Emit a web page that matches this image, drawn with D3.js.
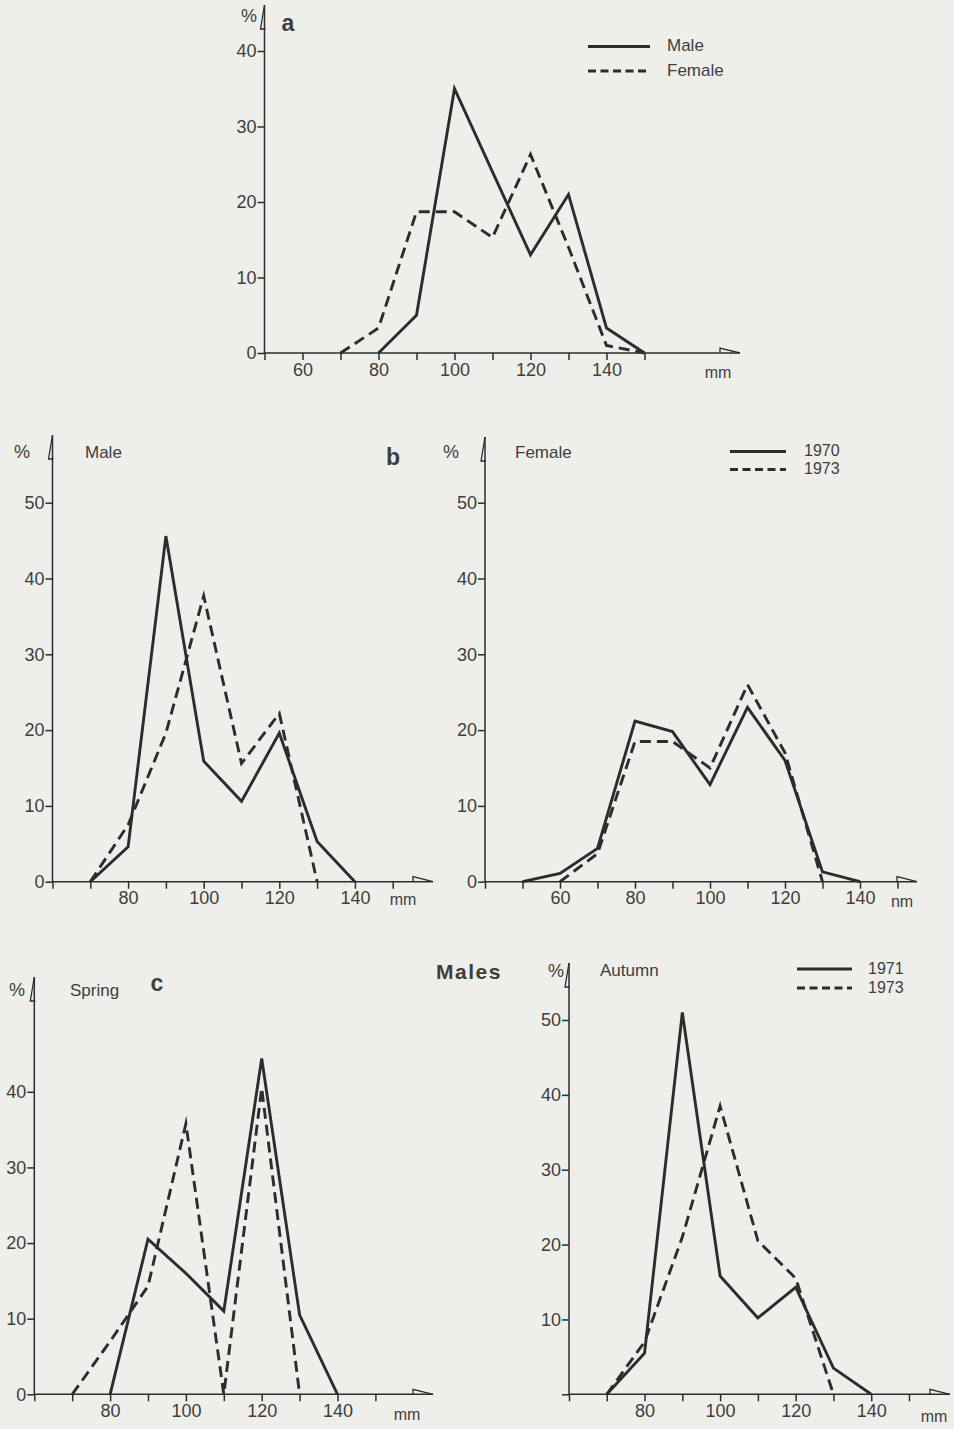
<!DOCTYPE html>
<html>
<head>
<meta charset="utf-8">
<script src="https://cdn.jsdelivr.net/npm/d3@7"></script>
<style>
  html, body { margin: 0; padding: 0; background: #eeeeea; }
  svg { display: block; }
  text { font-family: "Liberation Sans", Arial, sans-serif; fill: #3e3e3e; }
</style>
</head>
<body>
<svg id="fig" width="954" height="1429"></svg>
<script>
// ---- size classes (mm) and percentage frequencies ----
const classesA = [70, 80, 90, 100, 110, 120, 130, 140, 150];
const aMale    = [null, 0, 5, 35, 24, 13, 21, 3.3, 0];
const aFemale  = [0, 3.3, 18.7, 18.7, 15.3, 26.3, 14, 1, 0];

const classesB    = [50, 60, 70, 80, 90, 100, 110, 120, 130, 140];
const bMale1970   = [null, null, 0, 4.6, 45.6, 15.9, 10.6, 19.6, 5.3, 0];
const bMale1973   = [null, null, 0, 7.5, 19.6, 37.7, 15.6, 22.2, 0, null];
const bFemale1970 = [0, 1.1, 4.4, 21.2, 19.8, 12.8, 23, 16, 1.3, 0];
const bFemale1973 = [null, 0, 3.7, 18.5, 18.5, 15, 26, 17, 0, null];

const classesC    = [70, 80, 90, 100, 110, 120, 130, 140];
const cSpring1971 = [null, 0, 20.5, 16, 11, 44.4, 10.5, 0];
const cSpring1973 = [0, 7, 14.3, 35.8, 0, 40.5, 0, null];
const cAutumn1971 = [0, 5.5, 51, 15.8, 10.2, 14.3, 3.5, 0];
const cAutumn1973 = [0, 7, 21, 38.5, 20.5, 15.5, 0, null];

// ---- tick values ----
const xTicksFrom40 = [40, 50, 60, 70, 80, 90, 100, 110, 120, 130, 140, 150];
const xLabels60 = [60, 80, 100, 120, 140];
const xLabels80 = [80, 100, 120, 140];
const yTicks40 = [0, 10, 20, 30, 40];
const yTicks50 = [0, 10, 20, 30, 40, 50];
const yLabels10to50 = [10, 20, 30, 40, 50];

const INK = "#2c2c2c";
const DASH = "11,6";

const svg = d3.select("#fig");

// layout of the five panels
const panels = [
  { x0: 50, axisX: 264.5, x150: 644.5, y0: 353, yMax: 40, yTop: 51, axisTop: 5, tip: 740,
    yTicks: yTicks40, yLabels: yTicks40, xLabels: xLabels60, unit: "mm", unitAt: [718, 372],
    classes: classesA, series: [{ v: aMale, dash: false }, { v: aFemale, dash: true }] },
  { x0: 60, axisX: 52.5, x150: 392.7, y0: 881.7, yMax: 50, yTop: 502.7, axisTop: 435, tip: 433,
    yTicks: yTicks50, yLabels: yTicks50, xLabels: xLabels80, unit: "mm", unitAt: [403, 899],
    classes: classesB, series: [{ v: bMale1970, dash: false }, { v: bMale1973, dash: true }] },
  { x0: 40, axisX: 485, x150: 897.5, y0: 881.7, yMax: 50, yTop: 502.7, axisTop: 437, tip: 917,
    yTicks: yTicks50, yLabels: yTicks50, xLabels: xLabels60, unit: "nm", unitAt: [902, 901],
    classes: classesB, series: [{ v: bFemale1970, dash: false }, { v: bFemale1973, dash: true }] },
  { x0: 60, axisX: 34.3, x150: 375.4, y0: 1394.3, yMax: 40, yTop: 1091.8, axisTop: 977, tip: 433,
    yTicks: yTicks40, yLabels: yTicks40, xLabels: xLabels80, unit: "mm", unitAt: [407, 1414],
    classes: classesC, series: [{ v: cSpring1971, dash: false }, { v: cSpring1973, dash: true }] },
  { x0: 60, axisX: 569, x150: 909, y0: 1394.3, yMax: 50, yTop: 1020, axisTop: 963, tip: 950,
    yTicks: yTicks50, yLabels: yLabels10to50, xLabels: xLabels80, unit: "mm", unitAt: [934, 1416],
    classes: classesC, series: [{ v: cAutumn1971, dash: false }, { v: cAutumn1973, dash: true }] }
];

function drawPanel(p) {
  const g = svg.append("g");
  const x = d3.scaleLinear().domain([p.x0, 150]).range([p.axisX, p.x150]);
  const y = d3.scaleLinear().domain([0, p.yMax]).range([p.y0, p.yTop]);

  const xTicks = xTicksFrom40.filter(d => d >= p.x0);
  const xAxis = d3.axisBottom(x).tickValues(xTicks).tickSize(7).tickPadding(3).tickSizeOuter(0)
    .tickFormat(d => p.xLabels.includes(d) ? d : "");
  const gx = g.append("g").attr("transform", `translate(0,${p.y0})`).call(xAxis);

  const yAxis = d3.axisLeft(y).tickValues(p.yTicks).tickSize(7).tickPadding(1).tickSizeOuter(0)
    .tickFormat(d => p.yLabels.includes(d) ? d : "");
  const gy = g.append("g").attr("transform", `translate(${p.axisX},0)`).call(yAxis);

  [gx, gy].forEach(a => {
    a.select(".domain").remove();
    a.selectAll(".tick line").attr("stroke", INK).attr("stroke-width", 1.5);
    a.selectAll(".tick text").attr("font-size", 18).attr("fill", "#3e3e3e")
      .attr("font-family", "\"Liberation Sans\", Arial, sans-serif");
  });

  // axis lines with half-arrow heads
  g.append("line").attr("x1", p.axisX).attr("x2", p.tip).attr("y1", p.y0).attr("y2", p.y0)
    .attr("stroke", INK).attr("stroke-width", 1.5);
  g.append("line").attr("x1", p.axisX).attr("x2", p.axisX).attr("y1", p.y0).attr("y2", p.axisTop)
    .attr("stroke", INK).attr("stroke-width", 1.5);
  g.append("path").attr("d", `M${p.tip - 20},${p.y0} v-5 L${p.tip},${p.y0}`)
    .attr("fill", "none").attr("stroke", INK).attr("stroke-width", 1.3);
  g.append("path").attr("d", `M${p.axisX},${p.axisTop} L${p.axisX - 4},${p.axisTop + 24} H${p.axisX + 1}`)
    .attr("fill", "none").attr("stroke", INK).attr("stroke-width", 1.3);

  g.append("text").attr("x", p.unitAt[0]).attr("y", p.unitAt[1]).attr("text-anchor", "middle")
    .attr("dominant-baseline", "central").attr("font-size", 16).text(p.unit);

  const line = d3.line()
    .defined(d => d.v !== null)
    .x(d => x(d.mm))
    .y(d => y(d.v));

  p.series.forEach(s => {
    const pts = p.classes.map((mm, i) => ({ mm, v: s.v[i] }));
    g.append("path").datum(pts).attr("d", line)
      .attr("fill", "none").attr("stroke", INK).attr("stroke-width", 2.9)
      .attr("stroke-linejoin", "miter").attr("stroke-miterlimit", 6)
      .attr("stroke-dasharray", s.dash ? DASH : null);
  });
}

panels.forEach(drawPanel);

// ---- panel titles, letters and legends ----
const labels = [
  { t: "%", x: 249, y: 16, size: 18 },
  { t: "%", x: 22, y: 452, size: 18 },
  { t: "Male", x: 85, y: 452, size: 17, anchor: "start" },
  { t: "%", x: 451, y: 452, size: 18 },
  { t: "Female", x: 515, y: 452, size: 17, anchor: "start" },
  { t: "%", x: 17, y: 990, size: 18 },
  { t: "Spring", x: 70, y: 990, size: 17, anchor: "start" },
  { t: "%", x: 556, y: 971, size: 18 },
  { t: "Autumn", x: 600, y: 970, size: 17, anchor: "start" }
];
labels.forEach(l => {
  svg.append("text").attr("x", l.x).attr("y", l.y)
    .attr("text-anchor", l.anchor || "middle").attr("dominant-baseline", "central")
    .attr("font-size", l.size).text(l.t);
});

const letters = [
  { t: "a", x: 288, y: 23 },
  { t: "b", x: 393, y: 457 },
  { t: "c", x: 157, y: 983 }
];
letters.forEach(l => {
  svg.append("text").attr("x", l.x).attr("y", l.y).attr("text-anchor", "middle")
    .attr("dominant-baseline", "central").attr("font-size", 23).attr("font-weight", "bold")
    .attr("fill", "#333").text(l.t);
});

svg.append("text").attr("x", 469).attr("y", 971).attr("text-anchor", "middle")
  .attr("dominant-baseline", "central").attr("font-size", 21).attr("font-weight", "bold")
  .attr("letter-spacing", 1.5).attr("fill", "#333").text("Males");

const legends = [
  { x1: 588, x2: 650, tx: 667, size: 17, rows: [{ y: 46.5, label: "Male", dash: false }, { y: 71, label: "Female", dash: true }] },
  { x1: 730, x2: 786, tx: 804, size: 16, rows: [{ y: 451.5, label: "1970", dash: false }, { y: 469.5, label: "1973", dash: true }] },
  { x1: 797, x2: 852, tx: 868, size: 16, rows: [{ y: 969, label: "1971", dash: false }, { y: 988, label: "1973", dash: true }] }
];
legends.forEach(L => {
  L.rows.forEach(r => {
    svg.append("line").attr("x1", L.x1).attr("x2", L.x2).attr("y1", r.y).attr("y2", r.y)
      .attr("stroke", INK).attr("stroke-width", 2.9).attr("stroke-dasharray", r.dash ? "8,4.5" : null);
    svg.append("text").attr("x", L.tx).attr("y", r.y - 1).attr("dominant-baseline", "central")
      .attr("font-size", L.size).text(r.label);
  });
});
</script>
</body>
</html>
